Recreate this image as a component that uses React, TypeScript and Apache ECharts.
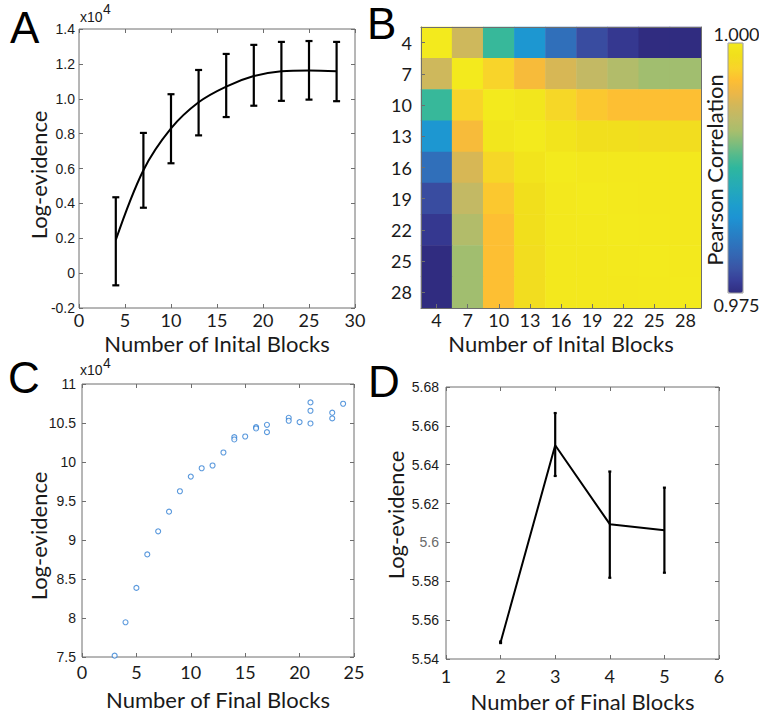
import React, { useEffect, useRef } from "react";
import * as echarts from "echarts";

// ---------- Panel A data (values in units of 10^4) ----------
const blocksA = [4, 7, 10, 13, 16, 19, 22, 25, 28];
const meanA = [0.19, 0.59, 0.83, 0.98, 1.07, 1.13, 1.158, 1.162, 1.158];
const lowA = [-0.07, 0.375, 0.63, 0.79, 0.895, 0.96, 0.988, 0.995, 0.986];
const highA = [0.435, 0.804, 1.026, 1.165, 1.257, 1.309, 1.326, 1.331, 1.326];

// ---------- Panel B data ----------
const initialBlocksB = ["4", "7", "10", "13", "16", "19", "22", "25", "28"];
const corrB = [
  [1.0, 0.9935, 0.9878, 0.983, 0.9795, 0.977, 0.9758, 0.975, 0.975],
  [0.9935, 1.0, 0.9975, 0.9958, 0.994, 0.9928, 0.9918, 0.991, 0.991],
  [0.9878, 0.9975, 1.0, 0.9995, 0.9978, 0.9968, 0.9963, 0.9963, 0.9963],
  [0.983, 0.9958, 0.9995, 1.0, 0.9993, 0.9987, 0.9987, 0.9985, 0.9985],
  [0.9795, 0.994, 0.9978, 0.9993, 1.0, 0.9998, 0.9998, 0.9998, 0.9998],
  [0.977, 0.9928, 0.9968, 0.9988, 0.9998, 1.0, 0.9999, 0.9998, 0.9998],
  [0.9758, 0.9918, 0.9963, 0.9988, 0.9998, 0.9999, 1.0, 0.9999, 0.9998],
  [0.975, 0.991, 0.9963, 0.9985, 0.9998, 0.9998, 0.9999, 1.0, 0.9999],
  [0.975, 0.991, 0.9963, 0.9985, 0.9998, 0.9998, 0.9998, 0.9999, 1.0],
];
const corrMin = 0.975;
const corrMax = 1.0;
const colorbarLabels = ["1.000", "0.975"];

// ---------- Panel C data (values in units of 10^4) ----------
const finalBlocksC = [3, 4, 5, 6, 7, 8, 9, 10, 11, 12, 13, 14, 14, 15, 16, 16, 17, 17, 19, 19, 20, 21, 21, 21, 23, 23, 24];
const logEvC = [7.517, 7.945, 8.386, 8.815, 9.111, 9.363, 9.625, 9.813, 9.92, 9.955, 10.122, 10.319, 10.289, 10.327, 10.447, 10.43, 10.477, 10.383, 10.567, 10.529, 10.512, 10.764, 10.657, 10.494, 10.632, 10.559, 10.747];

// ---------- Panel D data ----------
const finalBlocksD = [2, 3, 4, 5];
const meanD = [5.5486, 5.65, 5.6094, 5.6063];
const lowD = [5.5482, 5.6342, 5.5818, 5.5844];
const highD = [5.549, 5.6666, 5.6365, 5.6282];

// parula-like colormap as rendered in the figure (evenly spaced, low -> high)
const parula = [
  "#302c80", "#383f99", "#3a55a5", "#3466b3", "#2d75be", "#2584c8", "#1d93d3",
  "#1d9dcd", "#22a6bf", "#28aeb0", "#2eb79e", "#53ba8d", "#80bd7b", "#a9be6c",
  "#beba67", "#d2b759", "#ecb747", "#fdbe33", "#f8d42a", "#f1df1c", "#f3ea1d",
];

const HEL = "'Liberation Sans', Arial, sans-serif";
const MYR = "Lato, 'Open Sans', sans-serif";
const TXT = "#1a1a1a";
const AX = "#6e6e6e";

function errorBarRender(capHalf: number, lw: number) {
  return (params: any, api: any) => {
    const x = api.value(0);
    const lo = api.coord([x, api.value(1)]);
    const hi = api.coord([x, api.value(2)]);
    const st = { stroke: "#000", lineWidth: lw };
    return {
      type: "group",
      children: [
        { type: "line", shape: { x1: lo[0], y1: lo[1], x2: hi[0], y2: hi[1] }, style: st },
        { type: "line", shape: { x1: lo[0] - capHalf, y1: lo[1], x2: lo[0] + capHalf, y2: lo[1] }, style: st },
        { type: "line", shape: { x1: hi[0] - capHalf, y1: hi[1], x2: hi[0] + capHalf, y2: hi[1] }, style: st },
      ],
    };
  };
}

function valueAxisPair(
  kind: "x" | "y",
  gridIndex: number,
  min: number,
  max: number,
  interval: number,
  formatter: any,
  labelStyle: any,
  margin: number,
  name?: string,
  nameGap?: number
) {
  const main: any = {
    type: "value",
    gridIndex,
    min,
    max,
    interval,
    position: kind === "x" ? "bottom" : "left",
    axisLine: { show: false, onZero: false },
    axisTick: { show: true, inside: true, length: 4, lineStyle: { color: AX } },
    splitLine: { show: false },
    axisLabel: { show: true, formatter, margin, ...labelStyle },
  };
  if (name) {
    main.name = name;
    main.nameLocation = "middle";
    main.nameGap = nameGap;
    main.nameTextStyle = { fontFamily: MYR, fontSize: 22, color: TXT, verticalAlign: "middle", lineHeight: 20 };
  }
  const sec: any = {
    type: "value",
    gridIndex,
    min,
    max,
    interval,
    position: kind === "x" ? "top" : "right",
    axisLine: { show: false, onZero: false },
    axisTick: { show: true, inside: true, length: 4, lineStyle: { color: AX } },
    splitLine: { show: false },
    axisLabel: { show: false },
  };
  return [main, sec];
}

export default function App() {
  const ref = useRef<HTMLDivElement>(null);

  useEffect(() => {
    if (!ref.current) return;
    const chart = echarts.init(ref.current, null, { renderer: "svg" });

    const xLbl = { fontFamily: MYR, fontSize: 18, color: TXT, lineHeight: 16 };
    const yLbl = { fontFamily: HEL, fontSize: 14, color: TXT };

    const fmtA = (v: number) => (Math.abs(v) < 1e-9 ? "0" : v.toFixed(1));
    const fmtTrim1 = (v: number) => String(parseFloat(v.toFixed(1)));
    const fmtD = (v: number) => {
      const s = String(parseFloat(v.toFixed(2)));
      return s === "5.6" ? "{g|5.6}" : s;
    };

    const [xA, xA2] = valueAxisPair("x", 0, 0, 30, 5, (v: number) => String(v), xLbl, 4, "Number of Inital Blocks", 35);
    const [yA, yA2] = valueAxisPair("y", 0, -0.2, 1.4, 0.2, fmtA, yLbl, 4);
    const [xC, xC2] = valueAxisPair("x", 2, 0, 25, 5, (v: number) => String(v), xLbl, 7, "Number of Final Blocks", 42);
    const [yC, yC2] = valueAxisPair("y", 2, 7.5, 11, 0.5, fmtTrim1, yLbl, 6);
    const [xD, xD2] = valueAxisPair("x", 3, 1, 6, 1, (v: number) => String(v), xLbl, 9, "Number of Final Blocks", 42);
    const [yD, yD2] = valueAxisPair("y", 3, 5.54, 5.68, 0.02, fmtD, { ...yLbl, rich: { g: { fontFamily: HEL, fontSize: 14, color: "#6a6a6a" } } }, 7);

    const xB: any = {
      type: "category",
      gridIndex: 1,
      data: initialBlocksB,
      position: "bottom",
      axisLine: { show: true, onZero: false, lineStyle: { color: AX, width: 1 } },
      axisTick: { show: true, inside: true, alignWithLabel: true, length: 4, lineStyle: { color: AX } },
      axisLabel: { ...xLbl, margin: 4 },
      splitLine: { show: false },
      name: "Number of Inital Blocks",
      nameLocation: "middle",
      nameGap: 35,
      nameTextStyle: { fontFamily: MYR, fontSize: 22, color: TXT, verticalAlign: "middle", lineHeight: 20 },
      z: 10,
    };
    const xB2: any = {
      type: "category",
      gridIndex: 1,
      data: initialBlocksB,
      position: "top",
      axisLine: { show: true, onZero: false, lineStyle: { color: AX, width: 1 } },
      axisTick: { show: false },
      axisLabel: { show: false },
      z: 10,
    };
    const yB: any = {
      type: "category",
      gridIndex: 1,
      data: initialBlocksB,
      inverse: true,
      position: "left",
      axisLine: { show: true, onZero: false, lineStyle: { color: AX, width: 1 } },
      axisTick: { show: true, inside: true, alignWithLabel: true, length: 4, lineStyle: { color: AX } },
      axisLabel: { fontFamily: MYR, fontSize: 18, color: TXT, margin: 9 },
      splitLine: { show: false },
      z: 10,
    };
    const yB2: any = {
      type: "category",
      gridIndex: 1,
      data: initialBlocksB,
      inverse: true,
      position: "right",
      axisLine: { show: true, onZero: false, lineStyle: { color: AX, width: 1 } },
      axisTick: { show: false },
      axisLabel: { show: false },
      z: 10,
    };

    const heatData: number[][] = [];
    corrB.forEach((row, yi) => row.forEach((v, xi) => heatData.push([xi, yi, v])));

    const gridBox = { show: true, borderColor: AX, borderWidth: 1, backgroundColor: "transparent" };

    const panelLetter = (t: string, x: number, y: number) => ({
      type: "text",
      x,
      y,
      style: { text: t, fontFamily: HEL, fontSize: 44, lineHeight: 40, fill: "#000", align: "left", verticalAlign: "middle" },
    });
    const yTitle = (x: number, y: number, t: string) => ({
      type: "text",
      x,
      y,
      rotation: Math.PI / 2,
      style: { text: t, fontFamily: MYR, fontSize: 22, fill: TXT, align: "center", verticalAlign: "middle" },
    });
    const small = (t: string, x: number, y: number) => ({
      type: "text",
      x,
      y,
      style: { text: t, fontFamily: HEL, fontSize: 14, lineHeight: 12, fill: TXT, align: "left", verticalAlign: "middle" },
    });
    const cbLabel = (t: string, x: number, y: number) => ({
      type: "text",
      x,
      y,
      style: { text: t, fontFamily: MYR, fontSize: 18, fill: TXT, align: "center", verticalAlign: "middle" },
    });

    const cbLeft = 728;
    const cbTop = 43;
    const cbW = 15;
    const cbH = 250;

    const option: any = {
      animation: false,
      backgroundColor: "#fff",
      grid: [
        { left: 79, top: 29, width: 276, height: 279, ...gridBox },
        { left: 421, top: 27, width: 280, height: 281, show: false },
        { left: 82, top: 384, width: 272, height: 273, ...gridBox },
        { left: 446, top: 387, width: 273, height: 272, ...gridBox },
      ],
      xAxis: [xA, xA2, xB, xB2, xC, xC2, xD, xD2],
      yAxis: [yA, yA2, yB, yB2, yC, yC2, yD, yD2],
      visualMap: {
        type: "continuous",
        min: corrMin,
        max: corrMax,
        seriesIndex: 2,
        calculable: false,
        hoverLink: false,
        orient: "vertical",
        left: cbLeft,
        top: cbTop,
        padding: 0,
        itemWidth: cbW,
        itemHeight: cbH,
        inRange: { color: parula },
      },
      graphic: [
        panelLetter("A", 10, 27),
        panelLetter("B", 367, 23),
        panelLetter("C", 8, 377),
        panelLetter("D", 368, 381),
        small("x10", 80, 17),
        small("4", 103, 9),
        small("x10", 80, 370),
        small("4", 103, 363),
        yTitle(38, 175, "Log-evidence"),
        yTitle(38, 536, "Log-evidence"),
        yTitle(395, 515, "Log-evidence"),
        yTitle(714, 170, "Pearson Correlation"),
        cbLabel(colorbarLabels[0], cbLeft + cbW / 2 + 1, 34),
        cbLabel(colorbarLabels[1], cbLeft + cbW / 2 + 1, 305),
        {
          type: "rect",
          shape: { x: cbLeft, y: cbTop, width: cbW, height: cbH },
          style: { fill: "none", stroke: "#9a9a9a", lineWidth: 1 },
          z: 100,
        },
      ],
      series: [
        {
          type: "line",
          xAxisIndex: 0,
          yAxisIndex: 0,
          data: blocksA.map((x, i) => [x, meanA[i]]),
          showSymbol: false,
          smooth: 0.35,
          lineStyle: { color: "#000", width: 2 },
          z: 3,
        },
        {
          type: "custom",
          xAxisIndex: 0,
          yAxisIndex: 0,
          data: blocksA.map((x, i) => [x, lowA[i], highA[i]]),
          encode: { x: 0, y: [1, 2] },
          renderItem: errorBarRender(3.5, 2.2),
          z: 4,
        },
        {
          type: "heatmap",
          xAxisIndex: 2,
          yAxisIndex: 2,
          data: heatData,
          emphasis: { disabled: true },
          itemStyle: { borderWidth: 0 },
        },
        {
          type: "scatter",
          xAxisIndex: 4,
          yAxisIndex: 4,
          data: finalBlocksC.map((x, i) => [x, logEvC[i]]),
          symbol: "circle",
          symbolSize: 5,
          itemStyle: { color: "#ffffff", borderColor: "#2f7ed3", borderWidth: 1.1 },
        },
        {
          type: "line",
          xAxisIndex: 6,
          yAxisIndex: 6,
          data: finalBlocksD.map((x, i) => [x, meanD[i]]),
          showSymbol: false,
          lineStyle: { color: "#000", width: 2 },
          z: 3,
        },
        {
          type: "custom",
          xAxisIndex: 6,
          yAxisIndex: 6,
          data: finalBlocksD.map((x, i) => [x, lowD[i], highD[i]]),
          encode: { x: 0, y: [1, 2] },
          renderItem: errorBarRender(1.5, 2.2),
          z: 4,
        },
      ],
    };

    chart.setOption(option);
    return () => chart.dispose();
  }, []);

  return <div ref={ref} style={{ position: "absolute", left: 0, top: 0, width: 759, height: 715 }} />;
}
